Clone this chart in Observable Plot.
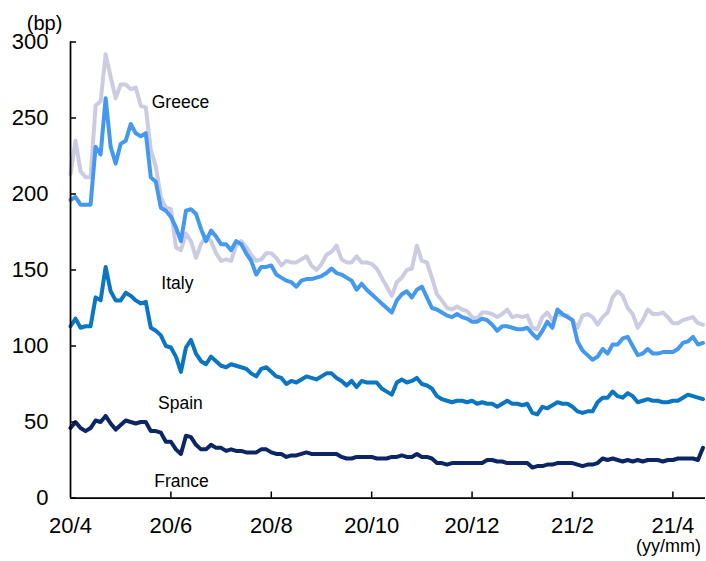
<!DOCTYPE html>
<html>
<head>
<meta charset="utf-8">
<script src="https://cdn.jsdelivr.net/npm/d3@7"></script>
<script src="https://cdn.jsdelivr.net/npm/@observablehq/plot@0.6"></script>
<style>
  html, body { margin: 0; padding: 0; background: #ffffff; }
  #chart { width: 706px; height: 561px; }
</style>
</head>
<body>
<div id="chart"></div>
<script>
// Spreads vs Germany (bp), sampled every 0.1 month starting 2020/4
const greece = [
  213,235,215,211,211,258,261,292,277,263,
  272,272,269,270,258,257,229,218,198,191,
  190,165,163,174,169,158,167,172,169,161,
  156,157,156,166,169,165,160,156,157,161,
  161,158,153,156,155,155,157,159,153,150,
  154,160,162,166,157,155,155,159,155,155,
  154,151,145,139,133,142,145,150,151,166,
  156,155,145,134,130,125,124,126,124,123,
  119,118,122,122,121,119,121,124,119,120,
  119,120,112,111,119,122,117,121,120,120,
  117,112,120,121,119,114,119,122,132,136,
  133,125,121,112,117,124,121,121,122,119,
  115,115,117,118,119,115,114
];
const italy = [
  196,198,193,193,193,231,226,263,231,220,
  233,235,246,240,238,240,211,208,191,189,
  185,178,169,189,190,187,177,169,176,172,
  167,167,163,169,167,161,156,147,152,152,
  153,147,145,143,142,139,143,144,144,145,
  146,148,151,148,147,145,143,137,141,137,
  134,131,128,125,122,130,134,136,132,137,
  139,132,125,124,122,120,119,121,119,118,
  116,116,118,117,114,110,113,113,112,111,
  111,112,108,105,110,116,112,124,121,119,
  117,103,97,94,91,93,98,95,101,101,
  105,106,100,94,95,98,95,95,96,96,
  96,98,102,103,106,101,102
];
const spain = [
  113,118,112,113,113,132,130,152,136,130,
  130,135,133,130,128,129,112,110,107,100,
  99,93,83,99,104,95,90,88,93,90,
  87,86,88,87,86,85,82,80,85,86,
  83,80,79,75,77,76,78,80,79,78,
  80,82,82,79,77,74,77,73,77,76,
  76,76,72,70,68,76,78,76,77,79,
  75,74,72,67,65,64,63,64,64,63,
  64,62,63,62,62,60,62,64,62,62,
  61,62,56,55,60,59,61,63,62,62,
  60,57,56,57,57,63,66,66,70,67,
  66,69,67,63,64,65,64,64,63,63,
  64,64,66,68,67,66,65
];
const france = [
  46,50,46,44,46,51,50,54,49,45,
  48,51,50,49,50,50,44,44,43,37,
  37,32,29,41,40,35,32,32,35,33,
  33,31,32,31,31,30,30,30,32,32,
  30,29,29,27,28,28,29,30,29,29,
  29,29,29,29,27,26,26,27,27,27,
  27,26,26,26,27,27,28,27,27,29,
  27,27,26,23,23,22,23,23,23,23,
  23,23,23,25,25,24,24,23,23,23,
  23,23,20,21,21,22,22,23,23,23,
  23,22,21,22,22,23,26,25,26,25,
  24,25,24,25,24,25,25,25,24,25,
  25,26,26,26,26,25,33
];

const seriesNames = ["Greece", "Italy", "Spain", "France"];
const seriesColors = ["#CBCBE3", "#4499EE", "#0A75C2", "#0B2565"];
const labelMonth = [2.19, 2.13, 2.19, 2.21];
const labelBp = [260, 141.5, 62.5, 11];

const xTickMonths = [0, 2, 4, 6, 8, 10, 12];
const xTickLabels = ["20/4", "20/6", "20/8", "20/10", "20/12", "21/2", "21/4"];
const yTicks = [0, 50, 100, 150, 200, 250, 300];

// x position in months since 2020/4 (one sample per 0.1 month)
const months = d3.range(greece.length).map(i => i / 10);
const seriesValues = [greece, italy, spain, france];
const table = seriesNames.flatMap((name, s) =>
  seriesValues[s].map((v, i) => ({series: name, m: months[i], bp: v}))
);
const labels = seriesNames.map((name, s) => ({name, m: labelMonth[s], bp: labelBp[s]}));
const tickLabelOf = new Map(xTickMonths.map((m, i) => [m, xTickLabels[i]]));

const chart = Plot.plot({
  width: 706,
  height: 561,
  marginLeft: 70,
  marginRight: 1,
  marginTop: 41.5,
  marginBottom: 63.5,
  style: {
    fontFamily: "'Liberation Sans', Arial, sans-serif",
    color: "#000",
    background: "#fff",
    overflow: "visible"
  },
  x: {domain: [0, 12.65]},
  y: {domain: [0, 300]},
  color: {domain: seriesNames, range: seriesColors},
  marks: [
    Plot.line(table, {
      x: "m", y: "bp", z: "series", stroke: "series",
      strokeWidth: 4, strokeLinejoin: "round", strokeLinecap: "round"
    }),
    Plot.text(labels, {x: "m", y: "bp", text: "name", fontSize: 17.5, fill: "#000", textAnchor: "middle"}),
    Plot.ruleX([0], {stroke: "#000", strokeWidth: 1.75}),
    Plot.ruleY([0], {stroke: "#000", strokeWidth: 1.75}),
    Plot.axisY(yTicks, {anchor: "left", tickSize: -6, tickFormat: () => "", label: null, strokeWidth: 1.5}),
    Plot.axisY(yTicks, {anchor: "left", tickSize: 0, tickPadding: 22, fontSize: 22, label: null}),
    Plot.axisX(xTickMonths.slice(1), {anchor: "bottom", tickSize: -6, tickFormat: () => "", label: null, strokeWidth: 1.5}),
    Plot.axisX(xTickMonths, {anchor: "bottom", tickSize: 0, tickPadding: 19, fontSize: 22, label: null, tickFormat: d => tickLabelOf.get(d)}),
    Plot.text(["(bp)"], {frameAnchor: "top-left", dx: -26, dy: -26, fontSize: 20, textAnchor: "middle", fill: "#000"}),
    Plot.text(["(yy/mm)"], {frameAnchor: "bottom-right", dx: -37, dy: 53.5, fontSize: 18, textAnchor: "middle", fill: "#000"})
  ]
});
document.getElementById("chart").appendChild(chart);
</script>
</body>
</html>
